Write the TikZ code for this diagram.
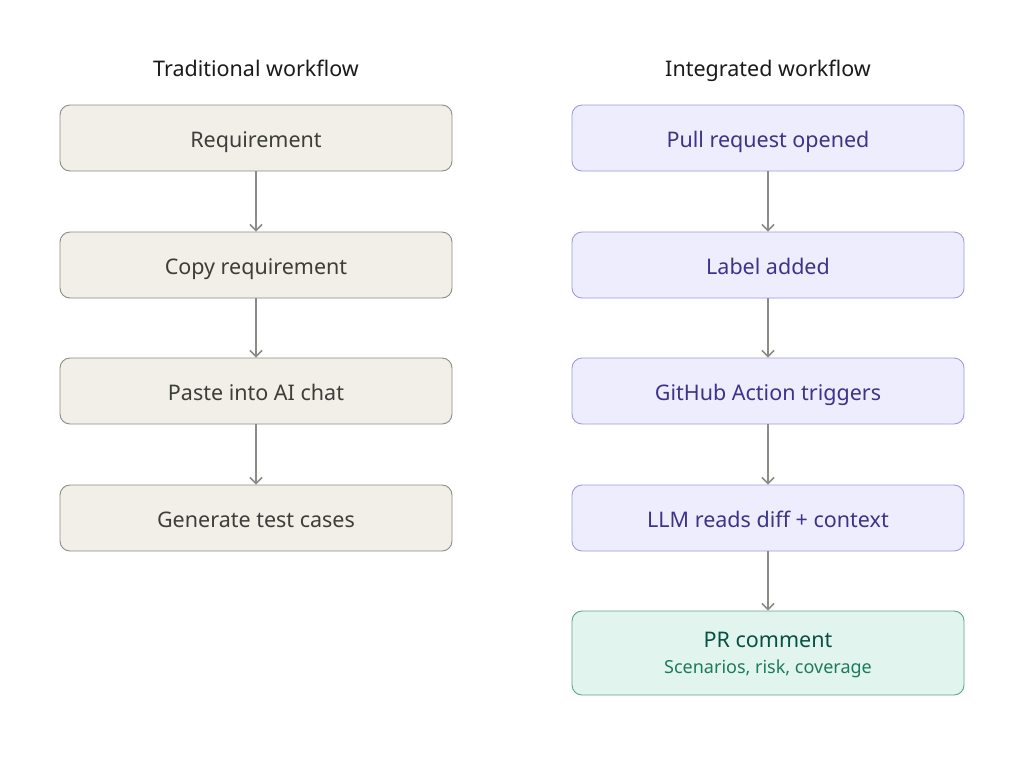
\documentclass[tikz,border=0pt]{standalone}
\usepackage{fontspec}
\setmainfont{Noto Sans}
\usetikzlibrary{arrows.meta}
\definecolor{tfill}{HTML}{F1EFE8}
\definecolor{tdraw}{HTML}{8C8B85}
\definecolor{ttext}{HTML}{3D3D3A}
\definecolor{pfill}{HTML}{EEEDFE}
\definecolor{pdraw}{HTML}{9F98E6}
\definecolor{ptext}{HTML}{3C3489}
\definecolor{gfill}{HTML}{E1F5EE}
\definecolor{gdraw}{HTML}{5DA585}
\definecolor{gtext}{HTML}{085041}
\definecolor{gsub}{HTML}{1D7A5E}
\definecolor{arr}{HTML}{8C8B85}
\definecolor{title}{HTML}{1A1A1A}
\begin{document}
\begin{tikzpicture}[x=1pt,y=-1pt,
  box/.style={rounded corners=10pt, line width=0.9pt, minimum width=392pt, minimum height=66pt, inner sep=0pt, align=center, text height=18pt, text depth=0pt, font=\fontsize{21.5}{26}\selectfont},
  tbox/.style={box, fill=tfill, draw=tdraw, text=ttext},
  pbox/.style={box, fill=pfill, draw=pdraw, text=ptext},
  gbox/.style={box, fill=gfill, draw=gdraw, minimum height=84pt},
  ttl/.style={anchor=base, font=\fontsize{21.5}{26}\selectfont, text=title},
  conn/.style={draw=arr, line width=1.8pt, -{Straight Barb[length=6pt,width=12pt,line width=1.6pt]}}]
\useasboundingbox (0,0) rectangle (1024,756);
\fill[white] (0,0) rectangle (1024,756);
\node[ttl] (t1) at (256,76) {Traditional workflow};
\node[ttl] (t2) at (768,76) {Integrated workflow};
\node[tbox] (a1) at (256,138) {Requirement};
\node[tbox] (a2) at (256,265) {Copy requirement};
\node[tbox] (a3) at (256,391) {Paste into AI chat};
\node[tbox] (a4) at (256,518) {Generate test cases};
\node[pbox] (b1) at (768,138) {Pull request opened};
\node[pbox] (b2) at (768,265) {Label added};
\node[pbox] (b3) at (768,391) {GitHub Action triggers};
\node[pbox] (b4) at (768,518) {LLM reads diff + context};
\node[gbox] (b5) at (768,653) {};
\node[anchor=base, text=gtext, font=\fontsize{21.5}{26}\selectfont] (b5t) at ([yshift=6pt]b5.center) {PR comment};
\node[anchor=base, text=gsub, font=\fontsize{18}{22}\selectfont] (b5s) at ([yshift=-20pt]b5.center) {Scenarios, risk, coverage};
\draw[conn] (a1) -- (a2);
\draw[conn] (a2) -- (a3);
\draw[conn] (a3) -- (a4);
\draw[conn] (b1) -- (b2);
\draw[conn] (b2) -- (b3);
\draw[conn] (b3) -- (b4);
\draw[conn] (b4) -- (b5);
\end{tikzpicture}
\end{document}
